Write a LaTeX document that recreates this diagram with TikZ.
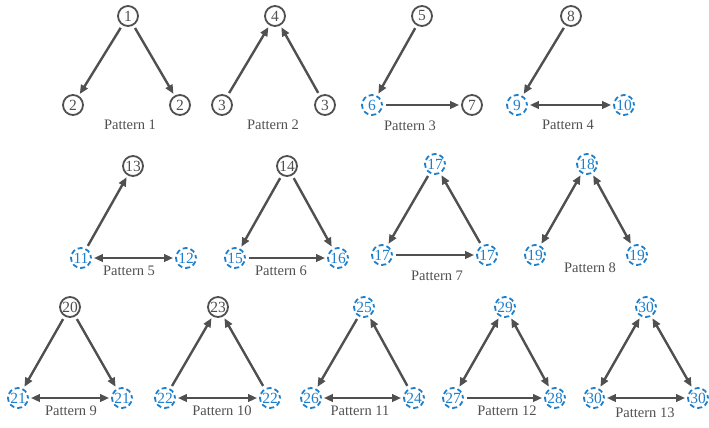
\documentclass[tikz,border=0pt]{standalone}
\usepackage{fontspec}
\setmainfont{Liberation Serif}
\usetikzlibrary{arrows.meta}
\definecolor{ink}{HTML}{505050}
\definecolor{blu}{HTML}{1E7FCB}
\begin{document}
\begin{tikzpicture}[x=1pt,y=-1pt,
  sn/.style={circle,draw=ink,line width=1.8pt,minimum size=20pt,inner sep=0pt,text=ink,font=\fontsize{15.5}{15.5}\selectfont},
  dn/.style={circle,draw=blu,line width=1.8pt,dash pattern=on 5pt off 3pt,dash phase=2pt,minimum size=20pt,inner sep=0pt,text=blu,font=\fontsize{15.5}{15.5}\selectfont},
  ar/.style={draw=ink,line width=2.4pt,-{Triangle[length=9pt,width=7.5pt]},shorten >=2pt,shorten <=3pt},
  br/.style={draw=ink,line width=2.4pt,{Triangle[length=9pt,width=7.5pt]}-{Triangle[length=9pt,width=7.5pt]},shorten >=2pt,shorten <=2pt},
  lab/.style={text=ink,font=\fontsize{14.5}{14.5}\selectfont}]
\useasboundingbox (0,0) rectangle (709,428);
% Pattern 1
\node[sn] (a1) at (128,16) {1};
\node[sn] (a2) at (73,105) {2};
\node[sn] (a3) at (180,105) {2};
\node[lab] (la) at (130,125) {Pattern 1};
\draw[ar] (a1) -- (a2);
\draw[ar] (a1) -- (a3);
% Pattern 2
\node[sn] (b1) at (275,16) {4};
\node[sn] (b2) at (222,105) {3};
\node[sn] (b3) at (325,105) {3};
\node[lab] (lb) at (273,125) {Pattern 2};
\draw[ar] (b2) -- (b1);
\draw[ar] (b3) -- (b1);
% Pattern 3
\node[sn] (c1) at (422,16) {5};
\node[dn] (c2) at (372,105) {6};
\node[sn] (c3) at (472,105) {7};
\node[lab] (lc) at (410,126) {Pattern 3};
\draw[ar] (c1) -- (c2);
\draw[ar] (c2) -- (c3);
% Pattern 4
\node[sn] (d1) at (571,16) {8};
\node[dn] (d2) at (517,105) {9};
\node[dn] (d3) at (624,105) {10};
\node[lab] (ld) at (568,125) {Pattern 4};
\draw[ar] (d1) -- (d2);
\draw[br] (d2) -- (d3);
% Pattern 5
\node[sn] (e1) at (133,166) {13};
\node[dn] (e2) at (81,258) {11};
\node[dn] (e3) at (186,258) {12};
\node[lab] (le) at (129,271) {Pattern 5};
\draw[ar] (e2) -- (e1);
\draw[br] (e2) -- (e3);
% Pattern 6
\node[sn] (f1) at (287,166) {14};
\node[dn] (f2) at (235,258) {15};
\node[dn] (f3) at (338,258) {16};
\node[lab] (lf) at (281,271) {Pattern 6};
\draw[ar] (f1) -- (f2);
\draw[ar] (f1) -- (f3);
\draw[ar] (f2) -- (f3);
% Pattern 7
\node[dn] (g1) at (435,164) {17};
\node[dn] (g2) at (382,255) {17};
\node[dn] (g3) at (487,255) {17};
\node[lab] (lg) at (437,276) {Pattern 7};
\draw[ar] (g1) -- (g2);
\draw[ar] (g2) -- (g3);
\draw[ar] (g3) -- (g1);
% Pattern 8
\node[dn] (h1) at (587,164) {18};
\node[dn] (h2) at (535,255) {19};
\node[dn] (h3) at (637,255) {19};
\node[lab] (lh) at (590,268) {Pattern 8};
\draw[br] (h1) -- (h2);
\draw[br] (h1) -- (h3);
% Pattern 9
\node[sn] (i1) at (70,307) {20};
\node[dn] (i2) at (18,398) {21};
\node[dn] (i3) at (122,398) {21};
\node[lab] (li) at (71,411) {Pattern 9};
\draw[ar] (i1) -- (i2);
\draw[ar] (i1) -- (i3);
\draw[br] (i2) -- (i3);
% Pattern 10
\node[sn] (j1) at (218,307) {23};
\node[dn] (j2) at (165,398) {22};
\node[dn] (j3) at (270,398) {22};
\node[lab] (lj) at (222,411) {Pattern 10};
\draw[ar] (j2) -- (j1);
\draw[ar] (j3) -- (j1);
\draw[br] (j2) -- (j3);
% Pattern 11
\node[dn] (k1) at (364,307) {25};
\node[dn] (k2) at (311,398) {26};
\node[dn] (k3) at (414,398) {24};
\node[lab] (lk) at (360,411) {Pattern 11};
\draw[ar] (k1) -- (k2);
\draw[ar] (k3) -- (k1);
\draw[br] (k2) -- (k3);
% Pattern 12
\node[dn] (m1) at (505,307) {29};
\node[dn] (m2) at (453,398) {27};
\node[dn] (m3) at (555,398) {28};
\node[lab] (lm) at (507,411) {Pattern 12};
\draw[br] (m1) -- (m2);
\draw[br] (m1) -- (m3);
\draw[ar] (m2) -- (m3);
% Pattern 13
\node[dn] (n1) at (646,307) {30};
\node[dn] (n2) at (594,398) {30};
\node[dn] (n3) at (698,398) {30};
\node[lab] (ln) at (645,413) {Pattern 13};
\draw[br] (n1) -- (n2);
\draw[br] (n1) -- (n3);
\draw[br] (n2) -- (n3);
\end{tikzpicture}
\end{document}
